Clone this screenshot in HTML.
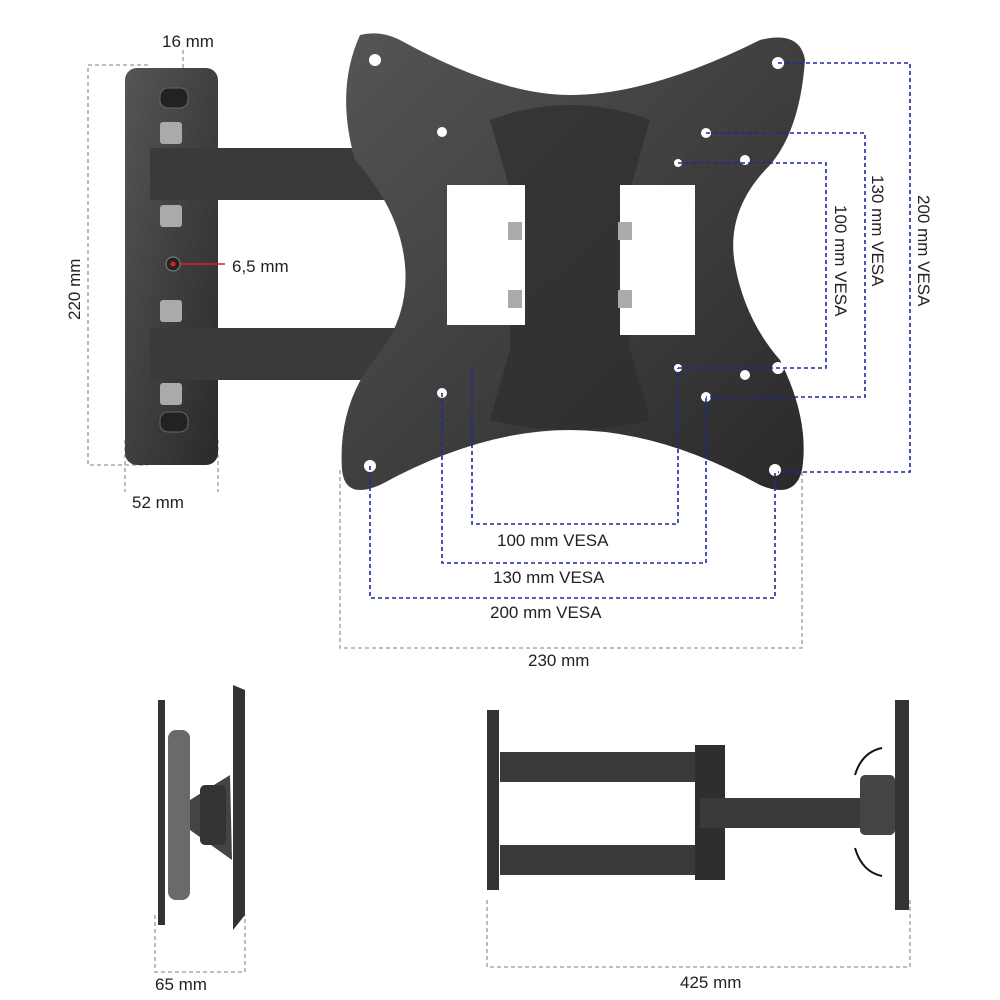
<!DOCTYPE html>
<html><head><meta charset="utf-8"><style>
html,body{margin:0;padding:0;background:#fff}
svg{display:block}
text{font-family:"Liberation Sans",sans-serif;font-size:17px;fill:#222}
</style></head><body>
<svg width="1000" height="1000" viewBox="0 0 1000 1000">
<defs>
<linearGradient id="g" x1="0" y1="0" x2="1" y2="1"><stop offset="0" stop-color="#555"/><stop offset="1" stop-color="#2a2a2a"/></linearGradient>
</defs>
<!-- grey dims -->
<g stroke="#999" stroke-dasharray="4,3" fill="none" stroke-width="1.3">
<path d="M148,65 H88 V465 H148"/>
<path d="M125,440 V492 M218,440 V492"/>
<path d="M183,50 V95"/>
<path d="M340,470 V648 H802 V470"/>
<path d="M155,915 V972 H245 V915"/>
<path d="M487,900 V967 H910 V900"/>
</g>
<!-- wall plate -->
<rect x="125" y="68" width="93" height="397" rx="12" fill="url(#g)"/>
<!-- arms -->
<rect x="150" y="148" width="380" height="52" fill="#3a3a3a"/>
<rect x="150" y="328" width="380" height="52" fill="#3a3a3a"/>
<g fill="#aaa"><rect x="160" y="88" width="28" height="20" rx="8" fill="#222" stroke="#666"/><rect x="160" y="412" width="28" height="20" rx="8" fill="#222" stroke="#666"/>
<rect x="160" y="122" width="22" height="22" rx="3"/><rect x="160" y="205" width="22" height="22" rx="3"/><rect x="160" y="300" width="22" height="22" rx="3"/><rect x="160" y="383" width="22" height="22" rx="3"/></g>
<circle cx="173" cy="264" r="7" fill="#222" stroke="#888"/><circle cx="173" cy="264" r="2.5" fill="#d22"/>
<line x1="180" y1="264" x2="225" y2="264" stroke="#d22" stroke-width="1.5"/>
<text x="232" y="272">6,5 mm</text>
<!-- VESA plate -->
<path d="M360,35 Q380,30 400,40 Q500,95 570,95 Q650,95 760,40 Q800,30 805,60 Q800,130 770,165 Q725,210 735,265 Q745,320 780,360 Q810,420 802,470 Q795,500 760,485 Q660,430 570,430 Q480,430 380,485 Q345,500 342,470 Q338,410 370,365 Q410,320 405,265 Q400,210 355,160 Q335,90 360,35Z" fill="url(#g)"/>
<path d="M490,120 Q570,90 650,120 L630,190 L630,350 L650,420 Q570,440 490,420 L510,350 L510,190 Z" fill="#2e2e2e" opacity=".7"/>
<rect x="447" y="185" width="78" height="140" fill="#fff"/><rect x="620" y="185" width="75" height="150" fill="#fff"/>
<g fill="#fff"><circle cx="375" cy="60" r="6"/><circle cx="778" cy="63" r="6"/><circle cx="370" cy="466" r="6"/><circle cx="775" cy="470" r="6"/><circle cx="442" cy="132" r="5"/><circle cx="706" cy="133" r="5"/><circle cx="442" cy="393" r="5"/><circle cx="706" cy="397" r="5"/><circle cx="678" cy="163" r="4"/><circle cx="678" cy="368" r="4"/><circle cx="745" cy="160" r="5"/><circle cx="778" cy="165" r="6"/><circle cx="745" cy="375" r="5"/><circle cx="778" cy="368" r="6"/></g>
<g fill="#aaa"><rect x="508" y="222" width="14" height="18"/><rect x="508" y="290" width="14" height="18"/><rect x="618" y="222" width="14" height="18"/><rect x="618" y="290" width="14" height="18"/></g>
<!-- blue dims -->
<g stroke="#1a2aa0" stroke-dasharray="4,3" fill="none" stroke-width="1.6">
<path d="M778,63 H910 V472 H778"/>
<path d="M706,133 H865 V397 H706"/>
<path d="M678,163 H826 V368 H678"/>
<path d="M472,367 V524 H678 V368"/>
<path d="M442,393 V563 H706 V397"/>
<path d="M370,466 V598 H775 V470"/>
</g>
<!-- labels -->
<text x="162" y="47">16 mm</text>
<text x="132" y="508">52 mm</text>
<text transform="translate(80,320) rotate(-90)">220 mm</text>
<text transform="translate(835,205) rotate(90)">100 mm VESA</text>
<text transform="translate(872,175) rotate(90)">130 mm VESA</text>
<text transform="translate(918,195) rotate(90)">200 mm VESA</text>
<text x="497" y="546">100 mm VESA</text>
<text x="493" y="583">130 mm VESA</text>
<text x="490" y="618">200 mm VESA</text>
<text x="528" y="666">230 mm</text>
<text x="155" y="990">65 mm</text>
<text x="680" y="988">425 mm</text>
<!-- bottom left side view -->
<path d="M158,700 L165,700 L165,925 L158,925Z" fill="#333"/>
<path d="M233,685 L245,690 L245,915 L233,930Z" fill="#333"/>
<rect x="168" y="730" width="22" height="170" rx="8" fill="#6a6a6a"/>
<path d="M190,800 L230,775 L232,860 L190,830Z" fill="#444"/>
<rect x="200" y="785" width="26" height="60" rx="5" fill="#333"/>
<!-- bottom right view -->
<rect x="487" y="710" width="12" height="180" fill="#333"/>
<rect x="895" y="700" width="14" height="210" fill="#333"/>
<rect x="500" y="752" width="225" height="30" fill="#3a3a3a"/>
<rect x="500" y="845" width="225" height="30" fill="#3a3a3a"/>
<rect x="695" y="745" width="30" height="135" fill="#2e2e2e"/>
<rect x="700" y="798" width="160" height="30" fill="#3a3a3a"/>
<rect x="860" y="775" width="35" height="60" rx="5" fill="#444"/>
<path d="M855,775 Q862,752 882,748" stroke="#111" stroke-width="2" fill="none"/>
<path d="M855,848 Q862,872 882,876" stroke="#111" stroke-width="2" fill="none"/>
</svg>
</body></html>
